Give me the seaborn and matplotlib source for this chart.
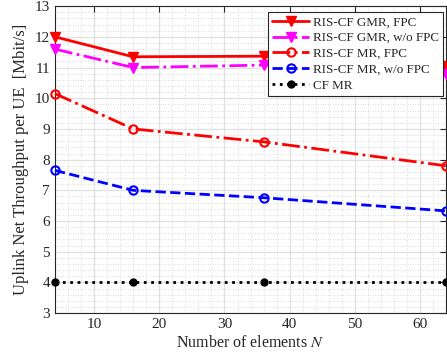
import numpy as np
import pandas as pd
import seaborn as sns
import matplotlib
matplotlib.use('Agg')
import matplotlib.pyplot as plt
from matplotlib.ticker import MultipleLocator

# data
n_elements = [4, 16, 36, 64]
gmr_fpc = [12.0, 11.35, 11.37, 11.05]
gmr_nofpc = [11.6, 11.0, 11.08, 10.8]
mr_fpc = [10.15, 9.0, 8.58, 7.8]
mr_nofpc = [7.65, 7.0, 6.76, 6.33]
cf_mr = [4.0, 4.0, 4.0, 4.0]

labels = ["RIS-CF GMR, FPC", "RIS-CF GMR, w/o FPC", "RIS-CF MR, FPC",
          "RIS-CF MR, w/o FPC", "CF MR"]

sns.set_style("white")
plt.rcParams['font.family'] = ['Liberation Serif', 'DejaVu Serif']
plt.rcParams['mathtext.fontset'] = 'stix'

fig = plt.figure(figsize=(4.47, 3.62), dpi=100)
ax = fig.add_axes([0.123, 0.135, 0.875, 0.848])

styles = [
    dict(color='#ff0000', ls='-', lw=2.0, marker='v', ms=7, mfc='#ff0000', mec='#ff0000'),
    dict(color='#ff00ff', ls='-.', lw=2.0, marker='v', ms=7, mfc='#ff00ff', mec='#ff00ff'),
    dict(color='#ff0000', ls='-.', lw=2.0, marker='o', ms=6, mfc='none', mec='#ff0000', mew=1.5),
    dict(color='#0000ff', ls='--', lw=2.0, marker='o', ms=6, mfc='none', mec='#0000ff', mew=1.5),
    dict(color='black', ls=':', lw=2.0, marker='o', ms=5, mfc='black', mec='black'),
]
series = [gmr_fpc, gmr_nofpc, mr_fpc, mr_nofpc, cf_mr]

for vals, lab, st in zip(series, labels, styles):
    df = pd.DataFrame({'N': n_elements, 'rate': vals})
    sns.lineplot(data=df, x='N', y='rate', ax=ax, label=lab,
                 color=st['color'], linestyle=st['ls'], linewidth=st['lw'],
                 marker=st['marker'], markersize=st['ms'],
                 markerfacecolor=st['mfc'], markeredgecolor=st['mec'],
                 markeredgewidth=st.get('mew', 1.0), clip_on=False, zorder=3)

ax.set_xlim(4, 64)
ax.set_ylim(3, 13)
ax.xaxis.set_major_locator(MultipleLocator(10))
ax.xaxis.set_minor_locator(MultipleLocator(2))
ax.yaxis.set_major_locator(MultipleLocator(1))
ax.yaxis.set_minor_locator(MultipleLocator(0.2))
ax.grid(which='major', color='#e0e0e0', lw=0.9, ls='-')
ax.grid(which='minor', color='#d0d0d0', lw=0.6, ls=(0, (1, 2)))
ax.set_axisbelow(True)
ax.tick_params(which='both', direction='in', top=True, right=True,
               labelsize=11, color='#262626', labelcolor='#262626')
ax.tick_params(which='minor', length=0)
ax.tick_params(which='major', length=4, width=0.8)
for sp in ax.spines.values():
    sp.set_color('#262626')
    sp.set_linewidth(0.8)

ax.set_xlabel("Number of elements $N$", fontsize=11.5, labelpad=3)
ax.set_ylabel("Uplink Net Throughput per UE  [Mbit/s]", fontsize=12, labelpad=4)

leg = ax.legend(loc='upper right', bbox_to_anchor=(0.993, 0.982), fontsize=9.4,
                frameon=True, fancybox=False, framealpha=1, edgecolor='#262626',
                handlelength=2.8, handletextpad=0.3, borderpad=0.35,
                labelspacing=0.28, borderaxespad=0.0)
leg.get_frame().set_linewidth(0.8)

fig.savefig('out.png', dpi=100)
